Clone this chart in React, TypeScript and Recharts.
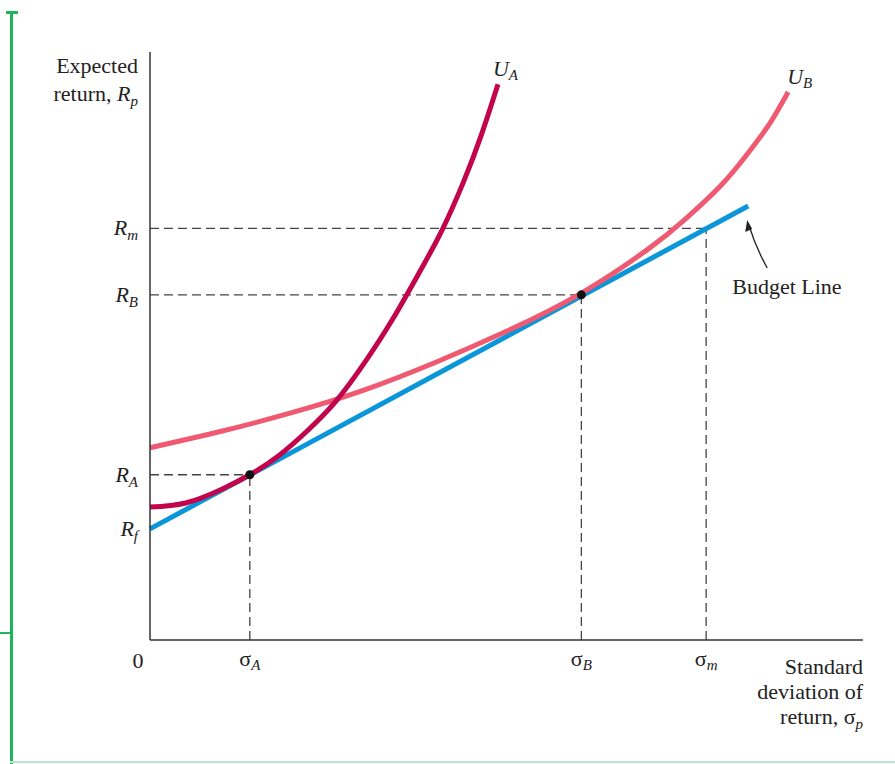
import React from 'react';
import { ComposedChart, Line, XAxis, YAxis, ReferenceLine, ReferenceDot, Label } from 'recharts';

// key positions
const sigmaA = 1.4;
const sigmaB = 6.05;
const sigmaM = 7.8;
const rateF = 1.89;
const rateA = 2.81;
const rateB = 5.87;
const rateM = 7.0;

// budget line endpoints
const budgetX = [0, 8.39];
const budgetY = [1.89, 7.38];

// indifference curve U_A
const uaX = [0, 0.5, 1.0, 1.4, 1.8, 2.2, 2.6, 3.0, 3.4, 3.8, 4.1, 4.4, 4.65, 4.88];
const uaY = [2.26, 2.33, 2.56, 2.81, 3.13, 3.55, 4.05, 4.7, 5.45, 6.3, 6.98, 7.8, 8.6, 9.45];

// indifference curve U_B
const ubX = [0, 1.0, 2.0, 3.0, 4.0, 5.0, 6.05, 7.0, 7.5, 8.0, 8.4, 8.7, 8.95];
const ubY = [3.27, 3.55, 3.87, 4.25, 4.72, 5.25, 5.9, 6.66, 7.15, 7.72, 8.3, 8.8, 9.32];

const xTicks = [0, sigmaA, sigmaB, sigmaM];
const xTickSubs = ['', 'A', 'B', 'm'];
const yTicks = [rateF, rateA, rateB, rateM];
const yTickSubs = ['f', 'A', 'B', 'm'];

const zip = (xs: number[], ys: number[]) => xs.map((x, i) => ({ x, y: ys[i] }));
const budgetData = zip(budgetX, budgetY);
const uaData = zip(uaX, uaY);
const ubData = zip(ubX, ubY);

const FONT = '"Liberation Serif", "DejaVu Serif", serif';
const INK = '#222';
const FS = 22;
const SUB = 15;
const DASH = { stroke: '#444', strokeWidth: 1.3, strokeDasharray: '9 5' };

const XTick = (props: any) => {
  const { x, y, payload } = props;
  const i = xTicks.indexOf(payload.value);
  if (i === 0) {
    return (
      <text x={x - 12} y={y + 28} textAnchor="middle" fontFamily={FONT} fontSize={FS} fill={INK}>0</text>
    );
  }
  return (
    <text x={x} y={y + 26} textAnchor="middle" fontFamily={FONT} fontSize={FS} fill={INK}>
      <tspan>σ</tspan>
      <tspan fontStyle="italic" fontSize={SUB} dy={4}>{xTickSubs[i]}</tspan>
    </text>
  );
};

const YTick = (props: any) => {
  const { x, y, payload } = props;
  const i = yTicks.indexOf(payload.value);
  return (
    <text x={x - 12} y={y + 7} textAnchor="end" fontFamily={FONT} fontSize={FS} fill={INK}>
      <tspan fontStyle="italic">R</tspan>
      <tspan fontStyle="italic" fontSize={SUB} dy={5}>{yTickSubs[i]}</tspan>
    </text>
  );
};

const CurveName = ({ cx, cy, sub, dx }: any) => (
  <text x={cx + dx} y={cy - 8} fontFamily={FONT} fontSize={FS} fill={INK}>
    <tspan fontStyle="italic">U</tspan>
    <tspan fontStyle="italic" fontSize={SUB} dy={4}>{sub}</tspan>
  </text>
);

const BudgetNote = ({ cx, cy }: any) => (
  <g>
    <path d={`M ${cx + 19} ${cy + 62} Q ${cx + 7} ${cy + 40} ${cx + 1} ${cy + 20}`} fill="none" stroke="#222" strokeWidth={1.3} />
    <path d={`M ${cx - 1} ${cy + 14} L ${cx - 3} ${cy + 26} L ${cx + 4} ${cy + 23} Z`} fill="#222" />
    <text x={cx - 16} y={cy + 88} fontFamily={FONT} fontSize={FS} fill={INK}>Budget Line</text>
  </g>
);

const YTitle = ({ viewBox }: any) => {
  const right = viewBox.x + viewBox.width - 12;
  return (
    <text textAnchor="end" fontFamily={FONT} fontSize={FS} fill={INK}>
      <tspan x={right} y={viewBox.y + 21}>Expected</tspan>
      <tspan x={right} y={viewBox.y + 49}>return, <tspan fontStyle="italic">R</tspan><tspan fontStyle="italic" fontSize={SUB} dy={5}>p</tspan></tspan>
    </text>
  );
};

const XTitle = ({ viewBox }: any) => {
  const right = viewBox.x + viewBox.width;
  return (
    <text textAnchor="end" fontFamily={FONT} fontSize={FS} fill={INK}>
      <tspan x={right} y={viewBox.y + 34}>Standard</tspan>
      <tspan x={right} y={viewBox.y + 59}>deviation of</tspan>
      <tspan x={right} y={viewBox.y + 84}>return, σ<tspan fontStyle="italic" fontSize={SUB} dy={5}>p</tspan></tspan>
    </text>
  );
};

export default function App() {
  return (
    <div style={{ position: 'absolute', left: 0, top: 0, width: 895, height: 764, background: '#fff' }}>
      {/* page frame marks */}
      <div style={{ position: 'absolute', left: 10, top: 11, width: 2.5, height: 753, background: '#1fb35b' }} />
      <div style={{ position: 'absolute', left: 6, top: 11, width: 12, height: 2.5, background: '#1fb35b' }} />
      <div style={{ position: 'absolute', left: 0, top: 632, width: 11, height: 2, background: '#1fb35b' }} />
      <div style={{ position: 'absolute', left: 10, top: 761, width: 885, height: 1.5, background: '#b5e6c9' }} />

      <ComposedChart width={895} height={764} margin={{ top: 52, right: 32, bottom: 123, left: 149 }}>
        <XAxis
          type="number"
          dataKey="x"
          domain={[0, 10]}
          ticks={xTicks}
          interval={0}
          tick={<XTick />}
          tickLine={false}
          tickSize={0}
          tickMargin={0}
          height={1}
          axisLine={{ stroke: '#333', strokeWidth: 1.5 }}
          allowDuplicatedCategory={false}
        >
          <Label content={<XTitle />} />
        </XAxis>
        <YAxis
          type="number"
          dataKey="y"
          domain={[0, 10]}
          ticks={yTicks}
          interval={0}
          tick={<YTick />}
          tickLine={false}
          tickSize={0}
          tickMargin={0}
          width={1}
          axisLine={{ stroke: '#333', strokeWidth: 1.5 }}
        >
          <Label content={<YTitle />} />
        </YAxis>

        <ReferenceLine segment={[{ x: 0, y: rateM }, { x: sigmaM, y: rateM }]} {...DASH} />
        <ReferenceLine segment={[{ x: sigmaM, y: 0 }, { x: sigmaM, y: rateM }]} {...DASH} />
        <ReferenceLine segment={[{ x: 0, y: rateB }, { x: sigmaB, y: rateB }]} {...DASH} />
        <ReferenceLine segment={[{ x: sigmaB, y: 0 }, { x: sigmaB, y: rateB }]} {...DASH} />
        <ReferenceLine segment={[{ x: 0, y: rateA }, { x: sigmaA, y: rateA }]} {...DASH} />
        <ReferenceLine segment={[{ x: sigmaA, y: 0 }, { x: sigmaA, y: rateA }]} {...DASH} />

        <Line data={budgetData} dataKey="y" type="linear" stroke="#0a96d8" strokeWidth={5} dot={false} isAnimationActive={false} />
        <Line data={ubData} dataKey="y" type="natural" stroke="#ef5a72" strokeWidth={5} dot={false} isAnimationActive={false} />
        <Line data={uaData} dataKey="y" type="natural" stroke="#c2044c" strokeWidth={5} dot={false} isAnimationActive={false} />

        <ReferenceDot x={sigmaA} y={rateA} r={4.5} fill="#111" stroke="none" />
        <ReferenceDot x={sigmaB} y={rateB} r={4.5} fill="#111" stroke="none" />

        <ReferenceDot x={uaX[uaX.length - 1]} y={uaY[uaY.length - 1]} shape={(p: any) => <CurveName cx={p.cx} cy={p.cy} sub="A" dx={-5} />} />
        <ReferenceDot x={ubX[ubX.length - 1]} y={ubY[ubY.length - 1]} shape={(p: any) => <CurveName cx={p.cx} cy={p.cy} sub="B" dx={-1} />} />
        <ReferenceDot x={budgetX[1]} y={budgetY[1]} shape={(p: any) => <BudgetNote cx={p.cx} cy={p.cy} />} />
      </ComposedChart>
    </div>
  );
}
